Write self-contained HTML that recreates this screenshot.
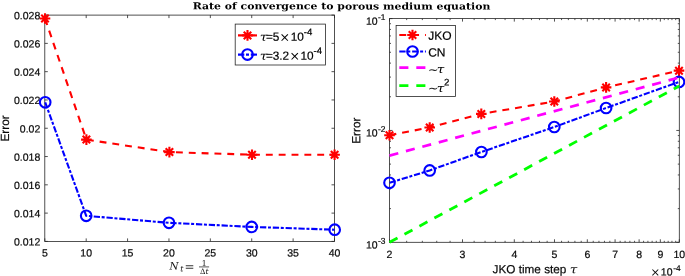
<!DOCTYPE html>
<html><head><meta charset="utf-8"><title>Rate of convergence to porous medium equation</title>
<style>html,body{margin:0;padding:0;background:#fff;overflow:hidden}svg{display:block}</style></head>
<body><svg width="685" height="276" viewBox="0 0 685 276" text-rendering="geometricPrecision">
<rect width="685" height="276" fill="#fff"/>
<rect x="44.8" y="15.1" width="289.7" height="226.3" fill="#fff" stroke="#262626" stroke-width="0.8"/>
<path d="M44.80 241.4v-3.0M44.80 15.1v3.0M86.19 241.4v-3.0M86.19 15.1v3.0M127.57 241.4v-3.0M127.57 15.1v3.0M168.96 241.4v-3.0M168.96 15.1v3.0M210.34 241.4v-3.0M210.34 15.1v3.0M251.73 241.4v-3.0M251.73 15.1v3.0M293.11 241.4v-3.0M293.11 15.1v3.0M334.50 241.4v-3.0M334.50 15.1v3.0M44.8 241.40h3.0M334.5 241.40h-3.0M44.8 213.11h3.0M334.5 213.11h-3.0M44.8 184.82h3.0M334.5 184.82h-3.0M44.8 156.54h3.0M334.5 156.54h-3.0M44.8 128.25h3.0M334.5 128.25h-3.0M44.8 99.96h3.0M334.5 99.96h-3.0M44.8 71.67h3.0M334.5 71.67h-3.0M44.8 43.39h3.0M334.5 43.39h-3.0M44.8 15.10h3.0M334.5 15.10h-3.0" stroke="#262626" stroke-width="0.8" fill="none"/>
<g font-family='"Liberation Sans", Arial, Helvetica, sans-serif' font-size="10.5" fill="#080808" stroke="#080808" stroke-width="0.2">
<text transform="rotate(0.03 44.80 256.6)" x="44.80" y="256.6" text-anchor="middle">5</text>
<text transform="rotate(0.03 86.19 256.6)" x="86.19" y="256.6" text-anchor="middle">10</text>
<text transform="rotate(0.03 127.57 256.6)" x="127.57" y="256.6" text-anchor="middle">15</text>
<text transform="rotate(0.03 168.96 256.6)" x="168.96" y="256.6" text-anchor="middle">20</text>
<text transform="rotate(0.03 210.34 256.6)" x="210.34" y="256.6" text-anchor="middle">25</text>
<text transform="rotate(0.03 251.73 256.6)" x="251.73" y="256.6" text-anchor="middle">30</text>
<text transform="rotate(0.03 293.11 256.6)" x="293.11" y="256.6" text-anchor="middle">35</text>
<text transform="rotate(0.03 334.50 256.6)" x="334.50" y="256.6" text-anchor="middle">40</text>
<text transform="rotate(0.03 40.3 245.55)" x="40.3" y="245.55" text-anchor="end">0.012</text>
<text transform="rotate(0.03 40.3 217.26)" x="40.3" y="217.26" text-anchor="end">0.014</text>
<text transform="rotate(0.03 40.3 188.97)" x="40.3" y="188.97" text-anchor="end">0.016</text>
<text transform="rotate(0.03 40.3 160.69)" x="40.3" y="160.69" text-anchor="end">0.018</text>
<text transform="rotate(0.03 40.3 132.40)" x="40.3" y="132.40" text-anchor="end">0.02</text>
<text transform="rotate(0.03 40.3 104.11)" x="40.3" y="104.11" text-anchor="end">0.022</text>
<text transform="rotate(0.03 40.3 75.82)" x="40.3" y="75.82" text-anchor="end">0.024</text>
<text transform="rotate(0.03 40.3 47.54)" x="40.3" y="47.54" text-anchor="end">0.026</text>
<text transform="rotate(0.03 40.3 19.25)" x="40.3" y="19.25" text-anchor="end">0.028</text>
</g>
<text transform="translate(8.9 128.4) rotate(-90.03)" text-anchor="middle" font-family='"Liberation Sans", Arial, Helvetica, sans-serif' font-size="11.85" fill="#080808" stroke="#080808" stroke-width="0.2">Error</text>
<polyline points="45.00,18.50 86.40,139.60 169.40,152.10 252.00,154.70 334.60,154.80" stroke="#f00" stroke-width="2.1" fill="none" stroke-dasharray="6.9 5.95" stroke-dashoffset="0" stroke-linejoin="round"/>
<path d="M39.70 18.50H50.30M45.00 13.20V23.80M41.25 14.75L48.75 22.25M41.25 22.25L48.75 14.75" stroke="#f00" stroke-width="2.1" fill="none"/>
<path d="M81.10 139.60H91.70M86.40 134.30V144.90M82.65 135.85L90.15 143.35M82.65 143.35L90.15 135.85" stroke="#f00" stroke-width="2.1" fill="none"/>
<path d="M164.10 152.10H174.70M169.40 146.80V157.40M165.65 148.35L173.15 155.85M165.65 155.85L173.15 148.35" stroke="#f00" stroke-width="2.1" fill="none"/>
<path d="M246.70 154.70H257.30M252.00 149.40V160.00M248.25 150.95L255.75 158.45M248.25 158.45L255.75 150.95" stroke="#f00" stroke-width="2.1" fill="none"/>
<path d="M329.30 154.80H339.90M334.60 149.50V160.10M330.85 151.05L338.35 158.55M330.85 158.55L338.35 151.05" stroke="#f00" stroke-width="2.1" fill="none"/>
<polyline points="45.20,102.30 86.20,215.80 169.00,222.80 251.70,226.90 334.70,229.70" stroke="#00f" stroke-width="2.1" fill="none" stroke-dasharray="6.3 1.7 3.0 1.82" stroke-dashoffset="0" stroke-linejoin="round"/>
<circle cx="45.20" cy="102.30" r="5.3" stroke="#00f" stroke-width="2.1" fill="none"/>
<circle cx="86.20" cy="215.80" r="5.3" stroke="#00f" stroke-width="2.1" fill="none"/>
<circle cx="169.00" cy="222.80" r="5.3" stroke="#00f" stroke-width="2.1" fill="none"/>
<circle cx="251.70" cy="226.90" r="5.3" stroke="#00f" stroke-width="2.1" fill="none"/>
<circle cx="334.70" cy="229.70" r="5.3" stroke="#00f" stroke-width="2.1" fill="none"/>
<rect x="235.2" y="24.1" width="90.2" height="40.9" fill="#fff" stroke="#262626" stroke-width="0.8"/>
<polyline points="238.00,35.40 257.00,35.40" stroke="#f00" stroke-width="2.1" fill="none" stroke-dasharray="6.9 5.95" stroke-dashoffset="0" stroke-linejoin="round"/>
<path d="M242.20 35.40H252.80M247.50 30.10V40.70M243.75 31.65L251.25 39.15M243.75 39.15L251.25 31.65" stroke="#f00" stroke-width="2.1" fill="none"/>
<polyline points="238.00,54.60 257.00,54.60" stroke="#00f" stroke-width="2.1" fill="none" stroke-dasharray="6.3 1.7 3.0 1.82" stroke-dashoffset="0" stroke-linejoin="round"/>
<circle cx="247.50" cy="54.60" r="5.3" stroke="#00f" stroke-width="2.1" fill="none"/>
<g fill="#000" stroke="#000" stroke-width="0.2"><text transform="translate(259.8 40.8) scale(1.18 1) rotate(0.03)" font-family='"DejaVu Serif", "Liberation Serif", serif' font-style="italic" font-size="11.5" fill="#000" stroke="none">τ</text><text transform="rotate(0.03 265.90000000000003 40.8)" x="265.90000000000003" y="40.8" font-family='"Liberation Sans", Arial, Helvetica, sans-serif' font-size="11.8">=5<tspan dx="0.2" dy="0.6" font-family="DejaVu Sans" font-size="12.5" stroke="none">×</tspan><tspan dx="0.6" dy="-0.6">10</tspan><tspan dy="-5.6" font-size="9.60">-4</tspan></text></g>
<g fill="#000" stroke="#000" stroke-width="0.2"><text transform="translate(259.8 59.7) scale(1.18 1) rotate(0.03)" font-family='"DejaVu Serif", "Liberation Serif", serif' font-style="italic" font-size="11.5" fill="#000" stroke="none">τ</text><text transform="rotate(0.03 265.90000000000003 59.7)" x="265.90000000000003" y="59.7" font-family='"Liberation Sans", Arial, Helvetica, sans-serif' font-size="11.8">=3.2<tspan dx="0.2" dy="0.6" font-family="DejaVu Sans" font-size="12.5" stroke="none">×</tspan><tspan dx="0.6" dy="-0.6">10</tspan><tspan dy="-5.6" font-size="9.60">-4</tspan></text></g>
<text transform="rotate(0.03 192.7 9.3)" x="192.7" y="9.3" font-family='"DejaVu Serif", "Liberation Serif", serif' font-weight="bold" font-size="9.5" fill="#000" textLength="297.7" lengthAdjust="spacingAndGlyphs">Rate of convergence to porous medium equation</text>
<g font-family='"DejaVu Serif", "Liberation Serif", serif' fill="#111">
<text transform="rotate(0.03 169.6 269.6)" x="169.6" y="269.6" font-style="italic" font-size="10.4">N</text>
<text transform="rotate(0.03 180.3 271.5)" x="180.3" y="271.5" font-style="italic" font-size="8">t</text>
<text transform="rotate(0.03 184.6 270.8)" x="184.6" y="270.8" font-family="DejaVu Sans" font-size="12" fill="#333">=</text>
<text transform="rotate(0.03 204.1 265.7)" x="204.1" y="265.7" font-size="7.6" text-anchor="middle">1</text>
<path d="M199 266.9H209.1" stroke="#111" stroke-width="0.7"/>
<text transform="rotate(0.03 204.2 274.0)" x="204.2" y="274.0" font-size="7.6" text-anchor="middle">Δ<tspan font-style="italic">t</tspan></text>
</g>
<rect x="389.5" y="18.6" width="289.80" height="223.70000000000002" fill="#fff" stroke="#262626" stroke-width="0.8"/>
<path d="M389.50 242.3v-3.0M389.50 18.6v3.0M406.66 242.3v-1.5M406.66 18.6v1.5M422.33 242.3v-1.5M422.33 18.6v1.5M436.74 242.3v-1.5M436.74 18.6v1.5M450.09 242.3v-1.5M450.09 18.6v1.5M462.51 242.3v-3.0M462.51 18.6v3.0M474.13 242.3v-1.5M474.13 18.6v1.5M485.05 242.3v-1.5M485.05 18.6v1.5M495.34 242.3v-1.5M495.34 18.6v1.5M505.07 242.3v-1.5M505.07 18.6v1.5M514.31 242.3v-3.0M514.31 18.6v3.0M523.10 242.3v-1.5M523.10 18.6v1.5M531.47 242.3v-1.5M531.47 18.6v1.5M539.48 242.3v-1.5M539.48 18.6v1.5M547.14 242.3v-1.5M547.14 18.6v1.5M554.49 242.3v-3.0M554.49 18.6v3.0M561.55 242.3v-1.5M561.55 18.6v1.5M568.35 242.3v-1.5M568.35 18.6v1.5M574.90 242.3v-1.5M574.90 18.6v1.5M581.21 242.3v-1.5M581.21 18.6v1.5M587.32 242.3v-3.0M587.32 18.6v3.0M593.22 242.3v-1.5M593.22 18.6v1.5M598.94 242.3v-1.5M598.94 18.6v1.5M604.48 242.3v-1.5M604.48 18.6v1.5M609.86 242.3v-1.5M609.86 18.6v1.5M615.08 242.3v-3.0M615.08 18.6v3.0M620.15 242.3v-1.5M620.15 18.6v1.5M625.08 242.3v-1.5M625.08 18.6v1.5M629.88 242.3v-1.5M629.88 18.6v1.5M634.56 242.3v-1.5M634.56 18.6v1.5M639.12 242.3v-3.0M639.12 18.6v3.0M643.57 242.3v-1.5M643.57 18.6v1.5M647.91 242.3v-1.5M647.91 18.6v1.5M652.14 242.3v-1.5M652.14 18.6v1.5M656.28 242.3v-1.5M656.28 18.6v1.5M660.33 242.3v-3.0M660.33 18.6v3.0M664.29 242.3v-1.5M664.29 18.6v1.5M668.16 242.3v-1.5M668.16 18.6v1.5M671.95 242.3v-1.5M671.95 18.6v1.5M675.66 242.3v-1.5M675.66 18.6v1.5M679.30 242.3v-3.0M679.30 18.6v3.0M389.5 242.30h3.0M679.3 242.30h-3.0M389.5 208.63h1.5M679.3 208.63h-1.5M389.5 188.93h1.5M679.3 188.93h-1.5M389.5 174.96h1.5M679.3 174.96h-1.5M389.5 164.12h1.5M679.3 164.12h-1.5M389.5 155.26h1.5M679.3 155.26h-1.5M389.5 147.78h1.5M679.3 147.78h-1.5M389.5 141.29h1.5M679.3 141.29h-1.5M389.5 135.57h1.5M679.3 135.57h-1.5M389.5 130.45h3.0M679.3 130.45h-3.0M389.5 96.78h1.5M679.3 96.78h-1.5M389.5 77.08h1.5M679.3 77.08h-1.5M389.5 63.11h1.5M679.3 63.11h-1.5M389.5 52.27h1.5M679.3 52.27h-1.5M389.5 43.41h1.5M679.3 43.41h-1.5M389.5 35.93h1.5M679.3 35.93h-1.5M389.5 29.44h1.5M679.3 29.44h-1.5M389.5 23.72h1.5M679.3 23.72h-1.5M389.5 18.60h3.0M679.3 18.60h-3.0" stroke="#262626" stroke-width="0.8" fill="none"/>
<g font-family='"Liberation Sans", Arial, Helvetica, sans-serif' font-size="10.5" fill="#080808" stroke="#080808" stroke-width="0.2">
<text transform="rotate(0.03 389.50 258.1)" x="389.50" y="258.1" text-anchor="middle">2</text>
<text transform="rotate(0.03 462.51 258.1)" x="462.51" y="258.1" text-anchor="middle">3</text>
<text transform="rotate(0.03 514.31 258.1)" x="514.31" y="258.1" text-anchor="middle">4</text>
<text transform="rotate(0.03 554.49 258.1)" x="554.49" y="258.1" text-anchor="middle">5</text>
<text transform="rotate(0.03 587.32 258.1)" x="587.32" y="258.1" text-anchor="middle">6</text>
<text transform="rotate(0.03 615.08 258.1)" x="615.08" y="258.1" text-anchor="middle">7</text>
<text transform="rotate(0.03 639.12 258.1)" x="639.12" y="258.1" text-anchor="middle">8</text>
<text transform="rotate(0.03 660.33 258.1)" x="660.33" y="258.1" text-anchor="middle">9</text>
<text transform="rotate(0.03 679.30 258.1)" x="679.30" y="258.1" text-anchor="middle">10</text>
<text transform="rotate(0.03 366 24.70)" x="366" y="24.70">10<tspan dy="-4.6" dx="0.4" font-size="8.40">-1</tspan></text>
<text transform="rotate(0.03 366 136.55)" x="366" y="136.55">10<tspan dy="-4.6" dx="0.4" font-size="8.40">-2</tspan></text>
<text transform="rotate(0.03 366 248.40)" x="366" y="248.40">10<tspan dy="-4.6" dx="0.4" font-size="8.40">-3</tspan></text>
<text transform="rotate(0.03 650.6 275.6)" x="650.6" y="275.6"><tspan font-family="DejaVu Sans" font-size="11.5" stroke="none" dy="0.5">×</tspan><tspan dx="0.6" dy="-0.5">10</tspan><tspan dy="-4.7" dx="0.6" font-size="8.40">-4</tspan></text>
</g>
<text transform="translate(360.3 130.7) rotate(-90.03)" text-anchor="middle" font-family='"Liberation Sans", Arial, Helvetica, sans-serif' font-size="11.85" fill="#080808" stroke="#080808" stroke-width="0.2">Error</text>
<text transform="rotate(0.03 492.6 273.2)" x="492.6" y="273.2" font-family='"Liberation Sans", Arial, Helvetica, sans-serif' font-size="11.75" fill="#080808" stroke="#080808" stroke-width="0.2">JKO time step</text>
<text transform="translate(569.8 273.2) scale(1.18 1) rotate(0.03)" font-family='"DejaVu Serif", "Liberation Serif", serif' font-style="italic" font-size="11.5" fill="#111" stroke="none">τ</text>
<polyline points="389.50,135.20 429.70,127.50 481.30,113.90 554.30,101.50 606.10,87.40 679.00,70.65" stroke="#f00" stroke-width="2.1" fill="none" stroke-dasharray="6.9 5.95" stroke-dashoffset="0" stroke-linejoin="round"/>
<path d="M384.20 135.20H394.80M389.50 129.90V140.50M385.75 131.45L393.25 138.95M385.75 138.95L393.25 131.45" stroke="#f00" stroke-width="2.1" fill="none"/>
<path d="M424.40 127.50H435.00M429.70 122.20V132.80M425.95 123.75L433.45 131.25M425.95 131.25L433.45 123.75" stroke="#f00" stroke-width="2.1" fill="none"/>
<path d="M476.00 113.90H486.60M481.30 108.60V119.20M477.55 110.15L485.05 117.65M477.55 117.65L485.05 110.15" stroke="#f00" stroke-width="2.1" fill="none"/>
<path d="M549.00 101.50H559.60M554.30 96.20V106.80M550.55 97.75L558.05 105.25M550.55 105.25L558.05 97.75" stroke="#f00" stroke-width="2.1" fill="none"/>
<path d="M600.80 87.40H611.40M606.10 82.10V92.70M602.35 83.65L609.85 91.15M602.35 91.15L609.85 83.65" stroke="#f00" stroke-width="2.1" fill="none"/>
<path d="M673.70 70.65H684.30M679.00 65.35V75.95M675.25 66.90L682.75 74.40M675.25 74.40L682.75 66.90" stroke="#f00" stroke-width="2.1" fill="none"/>
<polyline points="389.50,182.80 429.70,170.40 481.40,152.00 554.30,127.00 606.10,108.00 679.00,81.90" stroke="#00f" stroke-width="2.1" fill="none" stroke-dasharray="6.3 1.7 3.0 1.82" stroke-dashoffset="0" stroke-linejoin="round"/>
<circle cx="389.50" cy="182.80" r="5.3" stroke="#00f" stroke-width="2.1" fill="none"/>
<circle cx="429.70" cy="170.40" r="5.3" stroke="#00f" stroke-width="2.1" fill="none"/>
<circle cx="481.40" cy="152.00" r="5.3" stroke="#00f" stroke-width="2.1" fill="none"/>
<circle cx="554.30" cy="127.00" r="5.3" stroke="#00f" stroke-width="2.1" fill="none"/>
<circle cx="606.10" cy="108.00" r="5.3" stroke="#00f" stroke-width="2.1" fill="none"/>
<circle cx="679.00" cy="81.90" r="5.3" stroke="#00f" stroke-width="2.1" fill="none"/>
<polyline points="389.50,155.60 679.30,77.50" stroke="#f0f" stroke-width="2.7" fill="none" stroke-dasharray="9.1 7.9" stroke-dashoffset="0" stroke-linejoin="round"/>
<polyline points="389.50,242.30 679.30,86.00" stroke="#0f0" stroke-width="2.8" fill="none" stroke-dasharray="9.1 7.9" stroke-dashoffset="0" stroke-linejoin="round"/>
<rect x="396.1" y="25.5" width="59.3" height="71" fill="#fff" stroke="#262626" stroke-width="0.8"/>
<polyline points="399.30,35.00 425.90,35.00" stroke="#f00" stroke-width="2.1" fill="none" stroke-dasharray="6.9 5.95" stroke-dashoffset="0" stroke-linejoin="round"/>
<path d="M407.20 35.00H417.80M412.50 29.70V40.30M408.75 31.25L416.25 38.75M408.75 38.75L416.25 31.25" stroke="#f00" stroke-width="2.1" fill="none"/>
<polyline points="399.30,51.50 425.90,51.50" stroke="#00f" stroke-width="2.1" fill="none" stroke-dasharray="6.3 1.7 3.0 1.82" stroke-dashoffset="0" stroke-linejoin="round"/>
<circle cx="412.50" cy="51.50" r="5.3" stroke="#00f" stroke-width="2.1" fill="none"/>
<polyline points="399.30,67.70 426.50,67.70" stroke="#f0f" stroke-width="2.8" fill="none" stroke-dasharray="9.1 7.9" stroke-dashoffset="0" stroke-linejoin="round"/>
<polyline points="399.30,85.70 426.50,85.70" stroke="#0f0" stroke-width="2.8" fill="none" stroke-dasharray="9.1 7.9" stroke-dashoffset="0" stroke-linejoin="round"/>
<g font-family='"Liberation Sans", Arial, Helvetica, sans-serif' font-size="12.0" fill="#000" stroke="#000" stroke-width="0.2">
<text transform="rotate(0.03 428.2 39.8)" x="428.2" y="39.8">JKO</text>
<text transform="rotate(0.03 428.2 56.6)" x="428.2" y="56.6">CN</text>
<text transform="rotate(0.03 427.9 74.0)" x="427.9" y="74.0" font-family="DejaVu Sans" font-size="12.5" stroke="none" fill="#222">∼</text>
<text transform="translate(436.7 73.0) scale(1.18 1) rotate(0.03)" font-family='"DejaVu Serif", "Liberation Serif", serif' font-style="italic" font-size="11.5" fill="#000" stroke="none">τ</text>
<text transform="rotate(0.03 427.9 92.4)" x="427.9" y="92.4" font-family="DejaVu Sans" font-size="12.5" stroke="none" fill="#222">∼</text>
<text transform="translate(436.7 91.9) scale(1.18 1) rotate(0.03)" font-family='"DejaVu Serif", "Liberation Serif", serif' font-style="italic" font-size="11.5" fill="#000" stroke="none">τ</text>
<text transform="rotate(0.03 443.9 85.6)" x="443.9" y="85.6" font-size="9.60">2</text>
</g>
</svg></body></html>
